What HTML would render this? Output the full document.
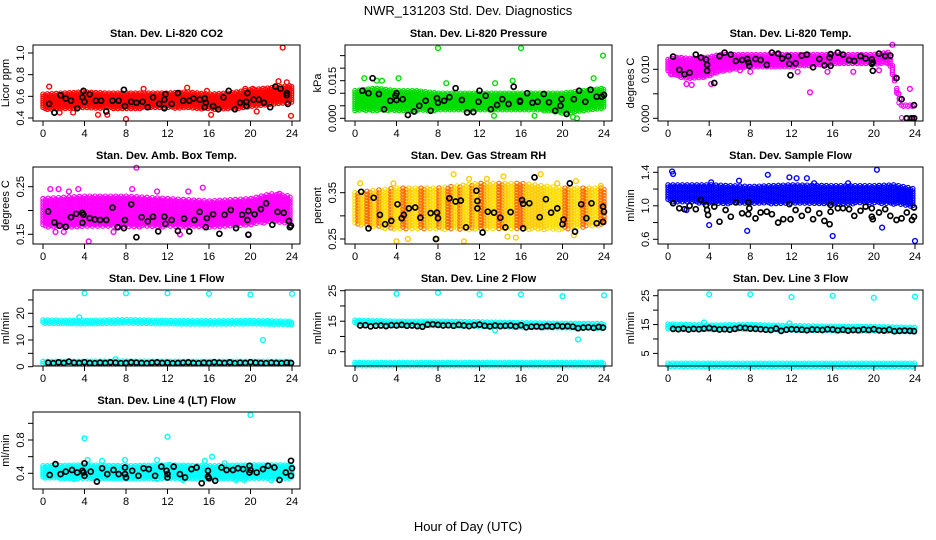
<!DOCTYPE html>
<html><head><meta charset="utf-8"><title>NWR_131203 Std. Dev. Diagnostics</title>
<style>html,body{margin:0;padding:0;background:#fff}svg{display:block;font-family:"Liberation Sans",Arial,sans-serif}</style>
</head><body>
<svg id="chart" width="936" height="540" viewBox="0 0 936 540" xmlns="http://www.w3.org/2000/svg">
<rect width="936" height="540" fill="#fff"/>
<text x="468" y="15" font-size="13" text-anchor="middle">NWR_131203 Std. Dev. Diagnostics</text>
<text x="468" y="531" font-size="13" text-anchor="middle">Hour of Day (UTC)</text>
</svg>
<script>
// ---------- DATA ----------
const hourTicks=[0,4,8,12,16,20,24];
// CO2
const co2BandX=[0,2,4,6,8,10,12,14,16,18,20,22,24];
const co2BandLo=[0.48,0.48,0.49,0.49,0.48,0.49,0.49,0.49,0.48,0.48,0.50,0.52,0.54];
const co2BandHi=[0.62,0.63,0.64,0.63,0.63,0.63,0.63,0.64,0.62,0.63,0.66,0.68,0.70];
const co2OutX=[0.6,23.1,23.9,8,6.2,5.3,22.7,23.5,13.9,20.2,19.5,9.7,15.8,1.6,2.9,20.6,16.2];
const co2OutY=[0.69,1.05,0.42,0.39,0.43,0.43,0.74,0.73,0.68,0.67,0.67,0.67,0.65,0.45,0.45,0.46,0.43];
const co2BlackX=[0.6,1.1,1.7,2.2,2.7,3.3,3.8,3.9,4,4.5,5.1,5.6,6.1,6.7,7.3,7.8,7.9,8.5,9,9.6,10.1,10.6,11.2,11.7,11.7,11.8,12.4,13,13.5,14.1,14.5,15.1,15.6,15.6,15.7,16.4,16.9,17.4,17.9,18.5,19,19.6,19.6,19.7,20.3,20.8,21.3,21.9,22.4,22.9,23.5,23.5,23.6];
const co2BlackY=[0.53,0.45,0.61,0.58,0.56,0.49,0.59,0.65,0.55,0.62,0.56,0.56,0.46,0.56,0.56,0.66,0.51,0.55,0.54,0.55,0.50,0.59,0.53,0.49,0.57,0.62,0.53,0.63,0.56,0.56,0.58,0.57,0.58,0.50,0.54,0.51,0.48,0.59,0.65,0.48,0.54,0.55,0.51,0.63,0.57,0.57,0.54,0.50,0.69,0.67,0.63,0.61,0.53];
// Pressure
const presBandX=[0,2,4,6,8,10,12,14,16,18,20,22,24];
const presBandLo=[0.003,0.003,0.003,0.003,0.003,0.003,0.003,0.003,0.003,0.003,0.002,0.003,0.004];
const presBandHi=[0.011,0.012,0.011,0.011,0.010,0.010,0.010,0.010,0.010,0.010,0.010,0.011,0.012];
const presOutX=[8,16,23.9,0.9,4.2,2.1,2.6,8.8,15.2,23,13.5,21,21.4,17.3,13.4];
const presOutY=[0.028,0.028,0.025,0.016,0.016,0.015,0.015,0.014,0.015,0.016,0.014,0.0005,0.0,0.001,0.001];
const presBlackX=[0.7,1.3,1.7,2.3,2.8,3.4,3.9,4,4,4.6,5.1,5.7,6.2,6.8,7.3,7.9,8,8.6,9.1,9.7,10.3,10.8,11.4,11.9,12,12.6,13.1,13.7,14.2,14.8,15.3,15.9,15.9,16.6,17.1,17.6,18.2,18.7,19.3,19.8,19.9,20.4,21.1,21.6,22.2,22.7,23.3,23.8,24];
const presBlackY=[0.011,0.010,0.016,0.0097,0.0036,0.007,0.009,0.010,0.0073,0.0076,0.0013,0.0027,0.005,0.007,0.003,0.008,0.0062,0.007,0.0084,0.012,0.0073,0.0023,0.0025,0.0066,0.011,0.009,0.0036,0.0053,0.0076,0.0057,0.0126,0.007,0.0066,0.010,0.0062,0.0066,0.0097,0.0064,0.003,0.005,0.0076,0.0017,0.0076,0.011,0.0066,0.0114,0.0086,0.0086,0.0093];
// Li-820 Temp
const tempBandX=[0,1,2,4,5,8,12,16,20,21.5,22,22.5,24];
const tempBandLo=[0.0095,0.0085,0.0080,0.0085,0.0095,0.0105,0.0105,0.0110,0.0110,0.0112,0.0075,0.0023,0.0023];
const tempBandHi=[0.0120,0.0125,0.0122,0.0125,0.0130,0.0130,0.0130,0.0130,0.0130,0.0135,0.0090,0.0027,0.0027];
const tempZeroBandX=[22.7,24];
const tempZeroBandLo=[-0.0001,-0.0001];
const tempZeroBandHi=[0.0001,0.0001];
const tempOutX=[13.8,23.5,1.8,4.2,2.3,0.3,21.8,12.6,7,8,15.5,18,20.5,22.4,22.5];
const tempOutY=[0.0053,0.0060,0.0070,0.0070,0.0068,0.0090,0.0150,0.0095,0.0098,0.0095,0.0095,0.0095,0.0098,0.0050,0.0040];
const tempBlackX=[0.5,1.1,1.6,2.1,2.7,3.2,3.7,3.8,3.8,4.5,5,5.5,6.1,6.6,7.2,7.7,7.8,7.9,8.5,9,9.6,10.1,10.7,11.1,11.7,11.8,11.9,12.4,13,13.5,14.1,14.7,15.2,15.7,15.8,15.8,16.5,17,17.6,18.1,18.7,19.2,19.8,19.8,19.9,19.9,20.5,21.1,21.6,22.2,22.7,23.2,23.7,23.9,23.9];
const tempBlackY=[0.0126,0.0099,0.009,0.0093,0.013,0.0124,0.012,0.0109,0.0097,0.0072,0.0127,0.0134,0.013,0.0117,0.0119,0.0121,0.0114,0.0107,0.0121,0.0119,0.0109,0.0134,0.0132,0.0122,0.0127,0.0111,0.0088,0.0112,0.0128,0.013,0.0104,0.0121,0.0108,0.0124,0.0131,0.0107,0.0134,0.013,0.0119,0.0117,0.0127,0.0122,0.012,0.0111,0.0097,0.0114,0.0132,0.0127,0.0128,0.0082,0.0039,0,0,0.0027,0];
// Amb box temp
const ambBandX=[0,4,8,12,16,20,22,24];
const ambBandLo=[0.165,0.165,0.165,0.165,0.165,0.170,0.175,0.170];
const ambBandHi=[0.225,0.230,0.230,0.225,0.220,0.225,0.235,0.230];
const ambOutX=[9,4.4,1.2,0.7,1.5,3.4,8.6,15.4,14,22.8,2,13.2,19.8,2.5,6.8,11];
const ambOutY=[0.29,0.135,0.155,0.245,0.245,0.245,0.245,0.248,0.24,0.235,0.155,0.15,0.15,0.24,0.155,0.24];
const ambBlackX=[0.5,1.1,1.6,2.2,2.7,3.2,3.8,3.8,3.9,4.5,5,5.5,6.1,6.7,7.2,7.8,7.9,8.5,9,9.5,10.1,10.6,11.1,11.7,11.8,12.4,13,13.6,14.1,14.6,15.1,15.7,15.8,16.4,17,17.5,18.1,18.6,19.2,19.7,19.8,19.8,20.4,21,21.5,22.1,22.6,23.2,23.7,23.8,23.9];
const ambBlackY=[0.198,0.175,0.168,0.166,0.186,0.193,0.174,0.195,0.191,0.184,0.181,0.18,0.18,0.206,0.165,0.163,0.18,0.213,0.144,0.186,0.177,0.187,0.156,0.187,0.172,0.18,0.157,0.183,0.156,0.18,0.197,0.165,0.184,0.192,0.151,0.191,0.201,0.163,0.191,0.18,0.199,0.149,0.192,0.203,0.215,0.17,0.197,0.195,0.178,0.165,0.168];
// Gas stream RH
const rhBandX=[0,4,8,12,16,20,24];
const rhBandLo=[0.28,0.27,0.27,0.27,0.27,0.27,0.28];
const rhBandHi=[0.35,0.36,0.36,0.37,0.37,0.36,0.36];
const rhOutX=[9.5,14.3,17.9,10.5,4,5.1,7.9,0.5,3.7,11,12.7,21.3,19.5,23.7,14.7,15.5,21.1];
const rhOutY=[0.39,0.385,0.39,0.245,0.245,0.25,0.25,0.37,0.37,0.38,0.38,0.375,0.37,0.365,0.255,0.253,0.258];
const rhBlackX=[0.6,1.3,1.8,2.4,2.9,3.5,4.1,4.5,4.7,5.2,5.8,6.3,7.3,7.8,7.9,8,9.1,9.7,10.2,10.7,11.7,11.8,11.8,12.3,12.8,13.4,14,14.5,15,16.1,16.2,16.2,16.8,17.3,17.8,18.4,18.9,19.5,20,20.1,20.7,21.2,21.8,22.3,22.8,23.3,23.9,23.9,24];
const rhBlackY=[0.352,0.273,0.339,0.302,0.282,0.289,0.325,0.295,0.302,0.316,0.318,0.296,0.306,0.25,0.307,0.295,0.338,0.331,0.333,0.275,0.354,0.316,0.332,0.264,0.309,0.307,0.296,0.275,0.308,0.334,0.326,0.273,0.327,0.383,0.297,0.336,0.307,0.316,0.282,0.292,0.37,0.266,0.325,0.295,0.327,0.284,0.287,0.32,0.309];
// Sample flow
const flowBandX=[0,4,8,12,16,20,22,24];
const flowBandLo=[1.05,1.03,1.02,1.03,1.02,1.03,1.02,0.98];
const flowBandHi=[1.25,1.25,1.23,1.25,1.24,1.24,1.25,1.20];
const flowOutX=[0.4,0.5,9.7,20.3,12.5,13.5,7.7,4,20.8,16,24,11.8,1.8,4.2,6.9,14.2,17.5];
const flowOutY=[1.41,1.38,1.37,1.43,1.33,1.33,0.70,0.77,0.74,0.64,0.58,1.34,0.95,1.28,1.30,1.27,1.27];
const flowBlackX=[0.5,1.1,1.6,2.1,2.7,3.2,3.7,3.8,3.9,4.5,5,5.6,6.1,6.6,7.2,7.8,7.8,7.9,8.5,9,9.6,10.1,10.7,11.2,11.8,11.9,12.4,13,13.6,14.1,14.7,15.2,15.7,15.8,15.8,16.5,17,17.6,18.1,18.7,19.2,19.8,19.8,19.9,20.5,21.1,21.6,22.2,22.7,23.2,23.7,23.9,23.9];
const flowBlackY=[1.03,0.97,0.96,1.0,0.96,1.07,1.01,0.95,0.89,0.99,0.81,0.95,0.87,1.04,0.91,0.9,1.04,0.97,0.85,0.92,0.93,0.9,0.8,0.84,1.02,0.84,0.95,0.88,0.95,0.84,0.91,0.82,0.78,0.93,1.01,0.97,0.97,0.96,0.88,0.94,0.99,0.87,0.97,0.84,0.92,0.96,0.88,0.83,0.85,0.92,0.83,0.87,0.98];
// Line flows
const lineBlackX=[0.5,1.0,1.5,2.0,2.5,3.0,3.5,4.0,4.5,5.0,5.5,6.0,6.5,7.0,7.5,8.0,8.5,9.0,9.5,10.0,10.5,11.0,11.5,12.0,12.5,13.0,13.5,14.0,14.5,15.0,15.5,16.0,16.5,17.0,17.5,18.0,18.5,19.0,19.5,20.0,20.5,21.0,21.5,22.0,22.5,23.0,23.5,23.9];
const line1BandX=[0,4,8,12,16,20,24];
const line1UpLo=[16.0,15.8,16.0,15.8,15.7,15.8,15.6];
const line1UpHi=[17.5,17.3,17.6,17.3,17.2,17.3,17.0];
const line1LowLo=[1.0,1.0,1.0,1.0,1.0,1.0,1.0];
const line1LowHi=[2.0,2.0,2.1,2.0,2.0,2.0,2.0];
const line1OutX=[4,8,12,16,20,24,3.5,21.2,7];
const line1OutY=[27.5,27.5,27.5,27.3,27,27.3,18.5,10,2.8];
const line1BlackY=[1.5,1.3,1.6,1.4,1.9,1.5,1.4,1.7,1.4,1.3,1.5,1.4,1.6,1.5,1.3,1.4,1.6,1.5,1.4,1.3,1.5,1.6,1.4,1.5,1.3,1.4,1.5,1.6,1.4,1.3,1.5,1.4,1.7,1.5,1.4,1.6,1.3,1.5,1.4,1.7,1.5,1.4,1.3,1.5,1.4,1.3,1.5,1.4];
const line2BandX=[0,4,8,12,16,20,24];
const line2UpLo=[14.0,13.5,13.5,13.2,13.0,12.8,12.6];
const line2UpHi=[15.3,15.0,15.0,14.8,14.5,14.3,14.2];
const line2LowLo=[0.4,0.4,0.4,0.4,0.4,0.4,0.4];
const line2LowHi=[1.5,1.5,1.5,1.5,1.5,1.5,1.5];
const line2OutX=[4,8,12,16,20,24,21.5,13.5];
const line2OutY=[24,24.3,23.8,23.8,23.2,23.5,9,12];
const line2BlackY=[13.6,13.7,13.3,13.5,13.6,13.4,13.7,13.6,13.8,13.5,13.6,13.4,13.2,13.9,14.0,13.8,13.6,13.7,13.5,13.8,13.6,13.4,13.7,13.9,13.5,13.3,13.6,13.4,13.5,13.6,13.3,13.7,13.0,13.2,13.3,13.1,13.4,13.2,13.5,13.3,13.4,13.2,12.7,12.9,13.0,12.8,13.1,12.9];
const line3BandX=[0,4,8,12,16,20,24];
const line3UpLo=[13.5,13.0,13.2,12.8,12.6,12.5,12.3];
const line3UpHi=[15.2,14.8,15.0,14.6,14.4,14.3,14.0];
const line3LowLo=[0.4,0.4,0.4,0.4,0.4,0.4,0.4];
const line3LowHi=[1.6,1.6,1.6,1.6,1.6,1.6,1.6];
const line3OutX=[4,8,12,16,20,24,3.5,11.8];
const line3OutY=[25.5,25.5,24.5,25,24.3,24.7,15.7,15.4];
const line3BlackY=[13.5,13.4,13.6,13.3,13.5,13.4,13.6,13.8,13.5,13.3,13.4,13.2,13.5,13.9,13.8,13.6,13.5,13.4,13.2,13.1,13.6,12.8,13.2,13.4,13.3,13.2,13.0,13.3,13.2,13.1,13.4,13.3,13.0,13.2,12.9,13.1,13.0,13.3,13.1,13.4,13.0,12.9,13.2,12.7,12.8,12.9,12.8,12.7];
const line4BandX=[0,4,8,12,16,20,24];
const line4BandLo=[0.34,0.33,0.33,0.33,0.33,0.33,0.34];
const line4BandHi=[0.49,0.50,0.49,0.50,0.49,0.50,0.50];
const line4OutX=[4,12,20,16.3,3,4.3,5.7,7.9,11,12.2,15.6,17.5,13.5,11,18.6,22,19.4];
const line4OutY=[0.82,0.84,1.1,0.6,0.33,0.56,0.55,0.56,0.56,0.5,0.55,0.52,0.32,0.33,0.32,0.32,0.32];
const line4BlackX=[0.65,1.2,1.7,2.2,2.8,3.3,3.8,3.9,4,4,4.6,5.2,5.7,6.2,6.8,7.3,7.9,7.9,8,8.6,9.2,9.7,10.2,10.8,11.4,11.9,12,12,12.6,13.2,13.7,14.3,14.8,15.3,15.9,15.9,16,16.6,17.2,17.7,18.3,18.8,19.3,19.9,19.9,20,20.6,21.2,21.7,22.3,22.8,23.4,23.9,23.9,24];
const line4BlackY=[0.38,0.51,0.39,0.42,0.44,0.41,0.43,0.41,0.52,0.37,0.42,0.30,0.46,0.39,0.44,0.39,0.39,0.47,0.35,0.43,0.37,0.46,0.45,0.37,0.48,0.43,0.39,0.35,0.48,0.39,0.35,0.45,0.47,0.28,0.43,0.36,0.34,0.31,0.47,0.44,0.44,0.46,0.45,0.49,0.41,0.44,0.41,0.45,0.49,0.47,0.32,0.41,0.55,0.37,0.46];

// ---------- LAYOUT ----------
const svg=document.getElementById('chart');
const NS='http://www.w3.org/2000/svg';
const COLS=[{l:33,r:300},{l:345,r:612},{l:658,r:923}];
const ROWS=[{t:45,b:121},{t:167,b:244},{t:290,b:366},{t:412,b:489}];
function mk(tag,attrs,parent){const e=document.createElementNS(NS,tag);for(const k in attrs)e.setAttribute(k,attrs[k]);(parent||svg).appendChild(e);return e;}
function interp(xs,ys,x){if(x<=xs[0])return ys[0];for(let i=1;i<xs.length;i++){if(x<=xs[i]){const f=(x-xs[i-1])/(xs[i]-xs[i-1]);return ys[i-1]+f*(ys[i]-ys[i-1]);}}return ys[ys.length-1];}

function panel(o){
  const c=COLS[o.col],rw=ROWS[o.row];
  const g=mk('g',{});
  
  
  const x0=c.l+10,x24=c.r-8;
  const xs=h=>x0+(x24-x0)*h/24;
  const ys=v=>o.ref[1]+(v-o.ref[0])*(o.ref[3]-o.ref[1])/(o.ref[2]-o.ref[0]);
  const t=mk('text',{x:(c.l+c.r)/2,y:rw.t-8,'font-size':11,'font-weight':'bold','text-anchor':'middle'},g);
  t.textContent=o.title;
  
  
  const pts=mk('g',{fill:'none'},g);
  
  
  // dense bands
  (o.bands||[]).forEach(b=>{
    const step=b.step||2.2;let k=0;
    for(let h=b.x[0];h<=b.x[b.x.length-1]+1e-9;h+=24*step/(x24-x0)){
      const px=xs(h);const ylo=ys(interp(b.x,b.lo,h)),yhi=ys(interp(b.x,b.hi,h));
      const off=(k%2)*step/2;k++;
      for(let py=yhi+off;py<=ylo+0.01;py+=step){
        const cc=mk('circle',{cx:px.toFixed(1),cy:py.toFixed(1),r:2.2,stroke:b.colors?b.colors[(k+Math.round(py))%b.colors.length]:o.color,'stroke-width':1.1},pts);
        
        
      }
      if(ylo<yhi){}
    }
  });
  o.outX.forEach((h,i)=>{
    const cc=mk('circle',{cx:xs(h).toFixed(1),cy:ys(o.outY[i]).toFixed(1),r:2.4,stroke:o.color,'stroke-width':1.4},pts);
    
    
  });
  o.blackX.forEach((h,i)=>{
    const cc=mk('circle',{cx:xs(h).toFixed(1),cy:ys(o.blackY[i]).toFixed(1),r:2.5,stroke:'#000','stroke-width':1.7},pts);
    
    
  });
  const box=mk('rect',{x:c.l,y:rw.t,width:c.r-c.l,height:rw.b-rw.t,fill:'none',stroke:'#000','stroke-width':1},g);
  
  
  // x axis
  const xa=mk('g',{},g);
  
  
  hourTicks.forEach(h=>{
    mk('line',{x1:xs(h),x2:xs(h),y1:rw.b,y2:rw.b+5,stroke:'#000'},xa);
    const tl=mk('text',{x:xs(h),y:rw.b+16,'font-size':11,'text-anchor':'middle'},xa);
    tl.textContent=h;
    
    
  });
  // y axis
  const ya=mk('g',{},g);
  
  
  o.ticks.forEach(v=>{const y=ys(v);mk('line',{x1:c.l-5,x2:c.l,y1:y,y2:y,stroke:'#000'},ya);});
  o.labels.forEach((lab,i)=>{
    const y=ys(o.labelVals[i]);
    const tl=mk('text',{x:c.l-9,y:y,'font-size':11,'text-anchor':'middle',transform:`rotate(-90 ${c.l-9} ${y})`},ya);
    tl.textContent=lab;
    
    
  });
  const my=(rw.t+rw.b)/2,mx=c.l-24;
  const yt=mk('text',{x:mx,y:my,'font-size':11,'text-anchor':'middle',transform:`rotate(-90 ${mx} ${my})`},g);
  yt.textContent=o.ylab;
  
  
}

panel({name:'co2',col:0,row:0,title:'Stan. Dev. Li-820 CO2',ylab:'Licor ppm',color:'#ff0000',ref:[0.4,118,1.0,53],
  ticks:[0.4,0.6,0.8,1.0],labelVals:[0.4,0.6,0.8,1.0],labels:['0.4','0.6','0.8','1.0'],
  bands:[{x:co2BandX,lo:co2BandLo,hi:co2BandHi}],outX:co2OutX,outY:co2OutY,blackX:co2BlackX,blackY:co2BlackY});
panel({name:'pressure',col:1,row:0,title:'Stan. Dev. Li-820 Pressure',ylab:'kPa',color:'#00dd00',ref:[0,118.3,0.015,80.7],
  ticks:[0,0.005,0.010,0.015,0.020,0.025],labelVals:[0,0.015],labels:['0.000','0.015'],
  bands:[{x:presBandX,lo:presBandLo,hi:presBandHi}],outX:presOutX,outY:presOutY,blackX:presBlackX,blackY:presBlackY});
panel({name:'li820-temp',col:2,row:0,title:'Stan. Dev. Li-820 Temp.',ylab:'degrees C',color:'#ff00ff',ref:[0,118.3,0.010,69.3],
  ticks:[0,0.005,0.010],labelVals:[0,0.010],labels:['0.000','0.010'],
  bands:[{x:tempBandX,lo:tempBandLo,hi:tempBandHi},{x:tempZeroBandX,lo:tempZeroBandLo,hi:tempZeroBandHi}],outX:tempOutX,outY:tempOutY,blackX:tempBlackX,blackY:tempBlackY});
panel({name:'amb-box-temp',col:0,row:1,title:'Stan. Dev. Amb. Box Temp.',ylab:'degrees C',color:'#ff00ff',ref:[0.15,234.3,0.25,186.7],
  ticks:[0.15,0.20,0.25],labelVals:[0.15,0.25],labels:['0.15','0.25'],
  bands:[{x:ambBandX,lo:ambBandLo,hi:ambBandHi,step:2.6}],outX:ambOutX,outY:ambOutY,blackX:ambBlackX,blackY:ambBlackY});
panel({name:'gas-stream-rh',col:1,row:1,title:'Stan. Dev. Gas Stream RH',ylab:'percent',color:'#ffcc00',ref:[0.25,239,0.35,192.7],
  ticks:[0.25,0.30,0.35],labelVals:[0.25,0.35],labels:['0.25','0.35'],
  bands:[{x:rhBandX,lo:rhBandLo,hi:rhBandHi,step:3,colors:['#ffcc00','#ff6a00','#ffdd00']}],outX:rhOutX,outY:rhOutY,blackX:rhBlackX,blackY:rhBlackY});
panel({name:'sample-flow',col:2,row:1,title:'Stan. Dev. Sample Flow',ylab:'ml/min',color:'#0000ff',ref:[0.6,239.3,1.4,172.3],
  ticks:[0.6,0.8,1.0,1.2,1.4],labelVals:[0.6,1.0,1.4],labels:['0.6','1.0','1.4'],
  bands:[{x:flowBandX,lo:flowBandLo,hi:flowBandHi,step:2.4}],outX:flowOutX,outY:flowOutY,blackX:flowBlackX,blackY:flowBlackY});
panel({name:'line1-flow',col:0,row:2,title:'Stan. Dev. Line 1 Flow',ylab:'ml/min',color:'#00ffff',ref:[0,366.7,20,313.3],
  ticks:[0,5,10,15,20,25],labelVals:[0,10,20],labels:['0','10','20'],
  bands:[{x:line1BandX,lo:line1UpLo,hi:line1UpHi},{x:line1BandX,lo:line1LowLo,hi:line1LowHi}],outX:line1OutX,outY:line1OutY,blackX:lineBlackX,blackY:line1BlackY});
panel({name:'line2-flow',col:1,row:2,title:'Stan. Dev. Line 2 Flow',ylab:'ml/min',color:'#00ffff',ref:[5,351.7,25,290.7],
  ticks:[5,10,15,20,25],labelVals:[5,15,25],labels:['5','15','25'],
  bands:[{x:line2BandX,lo:line2UpLo,hi:line2UpHi},{x:line2BandX,lo:line2LowLo,hi:line2LowHi}],outX:line2OutX,outY:line2OutY,blackX:lineBlackX,blackY:line2BlackY});
panel({name:'line3-flow',col:2,row:2,title:'Stan. Dev. Line 3 Flow',ylab:'ml/min',color:'#00ffff',ref:[5,353.4,25,295.7],
  ticks:[5,10,15,20,25],labelVals:[5,15,25],labels:['5','15','25'],
  bands:[{x:line3BandX,lo:line3UpLo,hi:line3UpHi},{x:line3BandX,lo:line3LowLo,hi:line3LowHi}],outX:line3OutX,outY:line3OutY,blackX:lineBlackX,blackY:line3BlackY});
panel({name:'line4-flow',col:0,row:3,title:'Stan. Dev. Line 4 (LT) Flow',ylab:'ml/min',color:'#00ffff',ref:[0.4,473.3,0.8,440],
  ticks:[0.4,0.6,0.8,1.0],labelVals:[0.4,0.8],labels:['0.4','0.8'],
  bands:[{x:line4BandX,lo:line4BandLo,hi:line4BandHi}],outX:line4OutX,outY:line4OutY,blackX:line4BlackX,blackY:line4BlackY});
</script>
</body></html>
